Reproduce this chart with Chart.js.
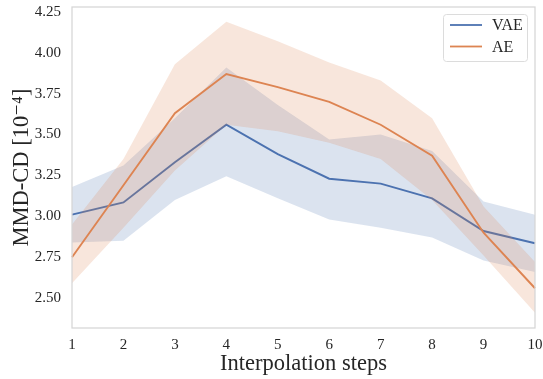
<!DOCTYPE html>
<html>
<head>
<meta charset="utf-8">
<script src="https://cdn.jsdelivr.net/npm/chart.js@4/dist/chart.umd.min.js"></script>
<style>
  html, body { margin: 0; padding: 0; background: #fff; }
  #wrap { width: 543px; height: 379px; position: relative; }
</style>
</head>
<body>
<div id="wrap"><canvas id="chart"></canvas></div>
<script>
// Data
const steps = ['1', '2', '3', '4', '5', '6', '7', '8', '9', '10'];

const vaeMean  = [3.01, 3.085, 3.33, 3.56, 3.38, 3.23, 3.20, 3.11, 2.91, 2.835];
const vaeUpper = [3.18, 3.31, 3.60, 3.91, 3.68, 3.47, 3.50, 3.40, 3.09, 3.01];
const vaeLower = [2.84, 2.85, 3.10, 3.245, 3.11, 2.98, 2.93, 2.87, 2.73, 2.66];

const aeMean  = [2.75, 3.19, 3.63, 3.87, 3.79, 3.70, 3.56, 3.37, 2.90, 2.56];
const aeUpper = [2.95, 3.35, 3.93, 4.19, 4.07, 3.94, 3.83, 3.60, 3.06, 2.72];
const aeLower = [2.59, 2.93, 3.28, 3.56, 3.52, 3.45, 3.35, 3.10, 2.76, 2.41];

const yTicks = [2.50, 2.75, 3.00, 3.25, 3.50, 3.75, 4.00, 4.25];

const BLUE = '#4c72b0';
const ORANGE = '#dd8452';
const FONT = "'Liberation Serif', 'DejaVu Serif', serif";

// band helper: upper line is invisible, lower fills back up to it
function band(data, color, order) {
    return { data: data, borderWidth: 0, pointRadius: 0, fill: false,
             borderColor: 'transparent', backgroundColor: color, order: order };
}

// light frame around the plot area (all four sides)
const framePlugin = {
    id: 'frame',
    afterDatasetsDraw(chart) {
        const a = chart.chartArea, ctx = chart.ctx;
        ctx.save();
        ctx.strokeStyle = '#d6d6d6';
        ctx.lineWidth = 1.25;
        ctx.strokeRect(a.left, a.top, a.right - a.left, a.bottom - a.top);
        ctx.restore();
    }
};

// matplotlib-style legend in the upper right corner
const legendPlugin = {
    id: 'mplLegend',
    afterDraw(chart) {
        const ctx = chart.ctx, a = chart.chartArea;
        const items = chart.data.datasets.filter(d => d.label);
        const boxW = 84, boxH = 47;
        const x0 = a.right - 8 - boxW, y0 = a.top + 7;
        ctx.save();
        ctx.fillStyle = 'rgba(255,255,255,0.8)';
        ctx.strokeStyle = '#dcdcdc';
        ctx.lineWidth = 1;
        ctx.beginPath();
        ctx.roundRect(x0 + 0.5, y0 + 0.5, boxW, boxH, 3);
        ctx.fill();
        ctx.stroke();
        ctx.font = '16px ' + FONT;
        ctx.textBaseline = 'middle';
        items.forEach((d, i) => {
            const y = y0 + 11 + i * 21.5;
            ctx.strokeStyle = d.borderColor;
            ctx.lineWidth = 1.8;
            ctx.beginPath();
            ctx.moveTo(x0 + 7, y);
            ctx.lineTo(x0 + 39, y);
            ctx.stroke();
            ctx.fillStyle = '#262626';
            ctx.fillText(d.label, x0 + 49, y + 1);
        });
        ctx.restore();
    }
};

const chart = new Chart(document.getElementById('chart'), {
    type: 'line',
    data: {
        labels: steps,
        datasets: [
            band(vaeUpper, 'rgba(76,114,176,0.2)', 6),
            Object.assign(band(vaeLower, 'rgba(76,114,176,0.2)', 5), { fill: '-1' }),
            { label: 'VAE', data: vaeMean, borderColor: BLUE, borderWidth: 1.9,
              pointRadius: 0, fill: false, tension: 0, order: 4 },
            band(aeUpper, 'rgba(221,132,82,0.2)', 3),
            Object.assign(band(aeLower, 'rgba(221,132,82,0.2)', 2), { fill: '-1' }),
            { label: 'AE', data: aeMean, borderColor: ORANGE, borderWidth: 1.9,
              pointRadius: 0, fill: false, tension: 0, order: 1 }
        ]
    },
    options: {
        responsive: true,
        maintainAspectRatio: false,
        animation: false,
        devicePixelRatio: 1,
        layout: { padding: 0 },
        plugins: {
            legend: { display: false },
            tooltip: { enabled: false }
        },
        scales: {
            x: {
                type: 'category',
                offset: false,
                grid: { display: false, drawTicks: false },
                border: { display: false },
                ticks: { color: '#262626', padding: 8, font: { family: FONT, size: 15 },
                         maxRotation: 0, autoSkip: false },
                title: { display: true, text: 'Interpolation steps', color: '#262626',
                         font: { family: FONT, size: 22.5 }, padding: { top: 0, bottom: 1 } },
                afterFit(scale) {
                    scale.height = 51;
                    scale.paddingLeft = 0;
                    scale.paddingRight = 8;
                }
            },
            y: {
                min: 2.317,
                max: 4.28,
                grid: { display: false, drawTicks: false },
                border: { display: false },
                afterBuildTicks(scale) { scale.ticks = yTicks.map(v => ({ value: v })); },
                ticks: { color: '#262626', padding: 11, font: { family: FONT, size: 15 },
                         callback: v => v.toFixed(2) },
                title: { display: true, text: 'MMD-CD [10\u207B\u2074]', color: '#262626',
                         font: { family: FONT, size: 22.5 }, padding: { top: 9, bottom: 0 } },
                afterFit(scale) {
                    scale.width = 72;
                    scale.paddingTop = 7;
                    scale.paddingBottom = 0;
                }
            }
        }
    },
    plugins: [framePlugin, legendPlugin]
});
</script>
</body>
</html>
